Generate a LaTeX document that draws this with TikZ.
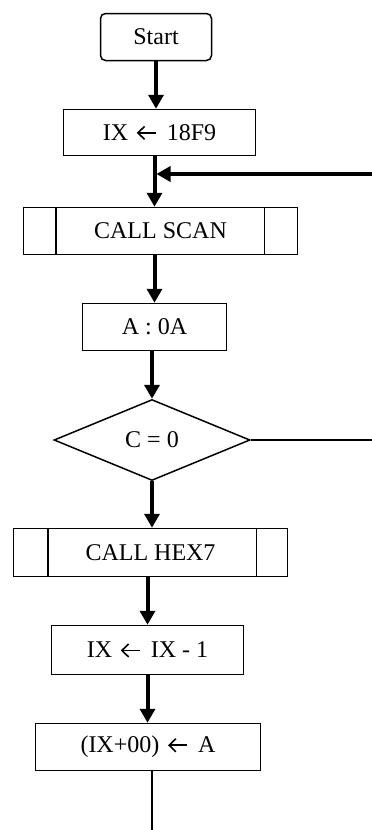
\documentclass[tikz,border=0pt]{standalone}
\usepackage{fontspec}
\setmainfont{Liberation Serif}
\usetikzlibrary{arrows.meta,shapes.geometric}
\newsavebox\larrbox
\sbox\larrbox{\hspace*{3pt}\tikz[baseline=-7.5pt,line width=1.6pt,line cap=butt,line join=miter]{\draw (0.8pt,0) -- (19pt,0); \draw (7.5pt,6.5pt) -- (0.8pt,0) -- (7.5pt,-6.5pt);}\hspace*{4pt}}
\newcommand\larr{\usebox\larrbox}
\begin{document}
\begin{tikzpicture}[x=1pt,y=-1pt,
  box/.style={draw,line width=1.5pt,inner sep=0pt,font=\fontsize{24}{28}\selectfont},
  flow/.style={line width=4pt,-{Triangle[length=14pt,width=15pt]}},
  plain/.style={line width=1.5pt}]
\useasboundingbox (0,0) rectangle (372,830);
\node[box,rounded corners=5pt,minimum width=111pt,minimum height=47pt] (start) at (156,37) {Start};
\node[box,minimum width=192pt,minimum height=46pt] (ix) at (159.5,132.5) {IX \larr{} 18F9};
\node[box,minimum width=274pt,minimum height=47pt] (scan) at (160.5,231) {CALL SCAN};
\node[box,minimum width=144pt,minimum height=47pt] (a) at (154.5,327) {A : 0A};
\node[box,diamond,shape aspect=2.4,minimum width=196pt,minimum height=81pt] (dia) at (152,440) {C = 0};
\node[box,minimum width=274pt,minimum height=48pt] (hex) at (150.5,552.5) {CALL HEX7};
\node[box,minimum width=192pt,minimum height=49pt] (dec) at (147.5,650) {IX \larr{} IX - 1};
\node[box,minimum width=225pt,minimum height=47pt] (st) at (148,747) {(IX+00) \larr{} A};
% subroutine side bars
\draw[plain] ([xshift=33pt]scan.north west) -- ([xshift=33pt]scan.south west);
\draw[plain] ([xshift=-34pt]scan.north east) -- ([xshift=-34pt]scan.south east);
\draw[plain] ([xshift=35pt]hex.north west) -- ([xshift=35pt]hex.south west);
\draw[plain] ([xshift=-32pt]hex.north east) -- ([xshift=-32pt]hex.south east);
% connectors
\coordinate (fb) at (372,174);
\coordinate (rt) at (372,440);
\coordinate (end) at (152,830);
\draw[flow] (start.south) -- (start.south |- ix.north);
\draw[flow] ([xshift=-5pt]ix.south) -- ([xshift=-5pt]ix.south |- scan.north);
\draw[flow] (fb) -- ([xshift=-3pt]fb -| ix.south);
\draw[flow] (scan.south -| a.north) -- (a.north);
\draw[flow] (a.south -| dia.north) -- (dia.north);
\draw[flow] (dia.south) -- (dia.south |- hex.north);
\draw[flow] (hex.south -| dec.north) -- (dec.north);
\draw[flow] (dec.south) -- (dec.south |- st.north);
\draw[plain] (dia.east) -- (rt);
\draw[plain] (st.south -| end) -- (end);
\end{tikzpicture}
\end{document}
